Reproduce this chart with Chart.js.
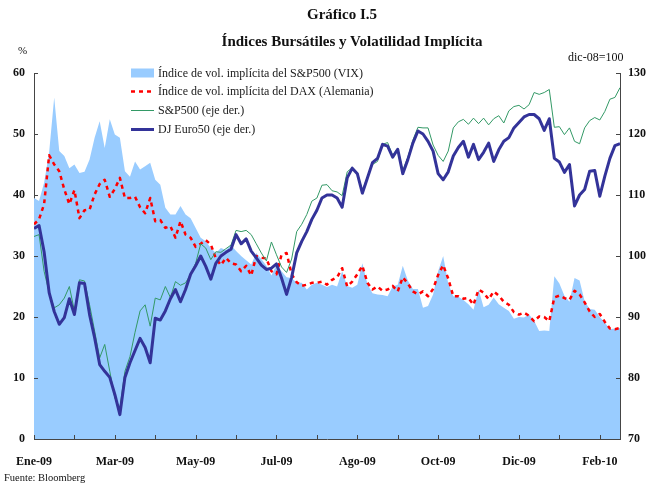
<!DOCTYPE html>
<html><head><meta charset="utf-8">
<script src="https://cdn.jsdelivr.net/npm/chart.js@4.4.1/dist/chart.umd.min.js"></script>
<style>
html,body{margin:0;padding:0;background:#fff;}
#wrap{position:relative;width:648px;height:483px;overflow:hidden;background:#fff;}
canvas{position:absolute;left:0;top:0;}
.t{position:absolute;font-family:"Liberation Serif","Times New Roman",serif;color:#111;white-space:nowrap;line-height:1;}
</style></head><body>
<div id="wrap">
<canvas id="c" width="648" height="483"></canvas>
<div class="t" style="left:342px;top:7px;transform:translateX(-50%);font-weight:bold;font-size:15px;">Gráfico I.5</div>
<div class="t" style="left:352px;top:34px;transform:translateX(-50%);font-weight:bold;font-size:15px;">Índices Bursátiles y Volatilidad Implícita</div>
<div class="t" style="left:18px;top:45px;font-size:11px;">%</div>
<div class="t" style="left:568px;top:51px;font-size:12px;">dic-08=100</div>
<div class="t" style="left:4px;top:473px;font-size:10.5px;">Fuente: Bloomberg</div>
</div>
<script>
// x-axis tick labels (one every 16 points)
const tickLabels = ['Ene-09','Mar-09','May-09','Jul-09','Ago-09','Oct-09','Dic-09','Feb-10'];

// Implied volatility S&P500 (VIX), %, left axis
const vix = [39.5,39,42,47,56,47.2,46.4,44.4,45,43.6,43.8,45.8,49.4,52.1,47.7,52.4,49.9,49.4,43.9,43,
45.5,44.2,44.7,45.3,42.5,41.7,37.9,36.8,36.8,38.2,36.8,36.2,34.6,33,32.4,31.3,30.5,31.3,31,31.8,
30.8,30,29.3,28.6,30.5,29.5,28.4,26.8,28.6,27.5,26.5,26.4,25.6,25.6,24.5,25.3,25.6,25.3,24.9,25.3,
25.0,27.5,25.1,24.8,25.3,28.8,25.4,23.9,23.7,23.6,23.4,25.0,25.3,28.4,26.0,24.6,24.6,21.5,21.8,23.7,
27.5,30,25.5,23.4,23.3,22.8,22.1,21.2,24.5,21.6,22,23.2,22.1,21.5,21,19.7,20,19.9,20.4,19.4,
17.7,17.8,17.7,26.7,25.5,23.5,22.5,26.4,26,22.6,21.3,21.2,20,19.1,18,18.1,18.2];

// Implied volatility DAX (Germany), %, left axis
const dax = [35.2,36,38.5,46.5,45,43.9,40.9,38.5,40.8,36.2,37.5,37.6,40.1,41.8,42.5,39.7,41,42.8,39.5,39.5,
39.7,38,37,39.5,35.7,35.9,34.6,34.9,33,35.7,33.5,33,31.5,32,32.6,31.9,29.6,28.5,29.7,28.8,
28.6,27.5,28.4,26.8,30,29.7,29.6,27.5,27,30.2,30.5,27,25.7,25.1,25.3,25.6,25.6,25.8,25.3,26.1,
26.5,28,25,25.8,27,28.4,25.6,24.5,25,24.3,24.5,25.1,24.2,26.5,25.5,24.2,23.7,24.2,23.4,24.6,
26.9,28.5,26.3,23.4,23.4,23,23.1,22,24.5,24,22.9,24.2,23.5,22.5,22,20.8,20.4,20.7,20.2,19.3,
20.1,20,19.3,23.2,23.5,23.1,22.8,24.3,23.7,22.4,20.9,20,20.5,19.2,18.1,18,18.2];

// S&P500, dic-08=100, right axis
const sp500 = [103.2,103.5,97.5,94,91.5,92,93.1,95,91,96.1,95.9,92,87.7,83.3,85.5,81.1,76.7,75.1,81.1,83.5,
87.5,91,92,88.5,93.1,92.8,95,93.2,95.8,95.2,95.6,97,98.8,102,101.3,99.4,100.7,100.6,101.2,101.8,
104.2,104,104.2,103.5,102,100.5,99.2,102.3,100.2,98.2,97.3,99.5,104,105.2,106.8,109,109.5,111.6,111.7,110.7,
110.5,109.9,113.8,114.5,113.7,110.7,113,115,115.5,118.3,118.6,116.5,117.7,114,116.2,119,121.1,121,121,118.2,
116.5,115.5,117.2,121,122,122.4,121.6,122.6,121.7,122.6,121.5,122.5,123,121.8,123.8,124.5,124.7,124.1,124.8,126.8,
126.5,126.8,127.3,121.1,121.2,119.9,121,118.8,118.4,121,122.2,122.7,122.3,123.7,125.7,126,127.6];

// DJ Euro Stoxx 50, dic-08=100, right axis
const euro50 = [104.5,105,100.7,94,90.9,88.8,89.9,93,90.4,95.6,95.5,90.4,86.6,82.2,81.1,80.1,77.3,74,80.1,82.5,
84.5,86.5,85,82.5,89.8,89.5,91,93,94.5,92.5,94.5,97,98.4,100,98.3,96.2,98.8,100,100.6,101.1,
103.5,102,102.8,100.8,99.7,98.5,97.8,98,98.7,96.4,93.7,96.5,100.5,102.4,104,106,107.5,109.5,110,110,
109.5,108,112.8,114.4,113.5,110.3,112.8,115.3,116,118.3,118,116.2,117.5,113.5,115.8,118.5,120.5,120,118.8,117.2,
113.5,112.5,113.8,116.4,117.8,118.8,116.2,118.3,115.8,117,118.5,115.5,117.4,118.8,119.4,121,121.9,122.8,123.2,123.2,
122.5,120.6,122.5,116,115.4,113.7,115,108.2,110,110.9,113.9,114,109.8,113.1,116,118.1,118.4];

const seriesNames = ['Índice de vol. implícita del S&P500 (VIX)','Índice de vol. implícita del DAX (Alemania)','S&P500 (eje der.)','DJ Euro50 (eje der.)'];

const pts = a => a.map((v,i)=>({x:i,y:v}));
const FONT = '"Liberation Serif","Times New Roman",serif';
const AXIS = '#454545';

const inwardTicks = {
  id:'inwardTicks',
  afterDatasetsDraw(chart){
    const {ctx, chartArea:ca, scales} = chart;
    ctx.save();
    ctx.strokeStyle = AXIS; ctx.lineWidth = 1;
    ctx.beginPath();
    scales.x.ticks.forEach(t=>{
      const px = Math.round(scales.x.getPixelForValue(t.value))+0.5;
      ctx.moveTo(px, ca.bottom); ctx.lineTo(px, ca.bottom-4);
    });
    scales.y.ticks.forEach(t=>{
      const py = Math.round(scales.y.getPixelForValue(t.value))+0.5;
      ctx.moveTo(ca.left, py); ctx.lineTo(ca.left+4, py);
    });
    scales.y2.ticks.forEach(t=>{
      const py = Math.round(scales.y2.getPixelForValue(t.value))+0.5;
      ctx.moveTo(ca.right, py); ctx.lineTo(ca.right-4, py);
    });
    ctx.stroke();
    ctx.restore();
  }
};

const legendPlugin = {
  id:'customLegend',
  afterDraw(chart){
    const ctx = chart.ctx;
    const ds = chart.data.datasets;
    const rows = [73, 91.5, 110.5, 129.5];
    const x0 = 131, x1 = 154, tx = 158;
    ctx.save();
    ds.forEach((d,k)=>{
      const y = rows[k];
      if (d.fill) {
        ctx.fillStyle = d.backgroundColor;
        ctx.fillRect(x0, y-4.5, x1-x0, 9);
      } else {
        ctx.strokeStyle = d.borderColor;
        ctx.lineWidth = d.borderWidth;
        ctx.setLineDash(d.borderDash || []);
        ctx.beginPath(); ctx.moveTo(x0, y); ctx.lineTo(x1, y); ctx.stroke();
        ctx.setLineDash([]);
      }
      ctx.fillStyle = '#1a1a1a';
      ctx.font = '12px ' + FONT;
      ctx.textBaseline = 'middle';
      ctx.textAlign = 'left';
      ctx.fillText(d.label, tx, y+0.5);
    });
    ctx.restore();
  }
};

const tickFont = {family: FONT, weight:'bold', size:12};

new Chart(document.getElementById('c').getContext('2d'), {
  type:'line',
  data:{datasets:[
    {label:seriesNames[0], data:pts(vix), yAxisID:'y', fill:'origin', backgroundColor:'#99CCFF', borderColor:'rgba(0,0,0,0)', borderWidth:0, pointRadius:0, order:4},
    {label:seriesNames[1], data:pts(dax), yAxisID:'y', fill:false, borderColor:'#FF0000', borderWidth:2.5, borderDash:[4,4], pointRadius:0, order:3},
    {label:seriesNames[2], data:pts(sp500), yAxisID:'y2', fill:false, borderColor:'#339966', borderWidth:1, pointRadius:0, order:2},
    {label:seriesNames[3], data:pts(euro50), yAxisID:'y2', fill:false, borderColor:'#333399', borderWidth:3, pointRadius:0, order:1}
  ]},
  options:{
    responsive:false, animation:false, devicePixelRatio:1,
    layout:{padding:{top:73,left:0,right:0,bottom:0}},
    plugins:{legend:{display:false}, tooltip:{enabled:false}, title:{display:false}},
    elements:{line:{tension:0, borderJoinStyle:'round', borderCapStyle:'butt'}, point:{radius:0}},
    scales:{
      x:{type:'linear', min:0, max:116,
        afterFit(s){ s.height = 44; },
        grid:{display:true, drawOnChartArea:false, drawTicks:false},
        border:{display:true, color:AXIS, width:1},
        ticks:{stepSize:8, includeBounds:false, autoSkip:false, maxRotation:0, minRotation:0, padding:16,
          font:tickFont, color:'#111',
          callback:(v)=> (v%16===0 && tickLabels[v/16]!==undefined) ? tickLabels[v/16] : ''}
      },
      y:{position:'left', min:0, max:60,
        afterFit(s){ s.width = 31; },
        grid:{display:true, drawOnChartArea:false, drawTicks:false},
        border:{display:true, color:AXIS, width:1},
        ticks:{stepSize:10, padding:9, font:tickFont, color:'#111'}
      },
      y2:{position:'right', min:70, max:130,
        afterFit(s){ s.width = 28; },
        grid:{display:true, drawOnChartArea:false, drawTicks:false},
        border:{display:true, color:AXIS, width:1},
        ticks:{stepSize:10, padding:8, font:tickFont, color:'#111'}
      }
    }
  },
  plugins:[inwardTicks, legendPlugin]
});
</script>
</body></html>
